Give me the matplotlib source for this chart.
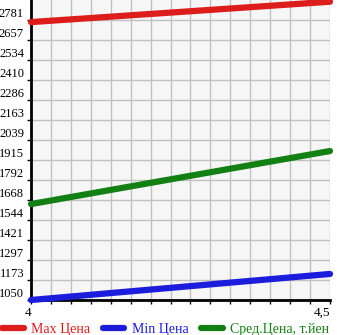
import numpy as np
import matplotlib
matplotlib.use("Agg")
import matplotlib.pyplot as plt
from matplotlib.lines import Line2D

x_vals = [4.0, 4.5]
max_price = [2768, 2894]
min_price = [1050, 1211]
avg_price = [1643, 1971]
ytick_labels = ["1050", "1173", "1297", "1421", "1544", "1668", "1792", "1915",
                "2039", "2163", "2286", "2410", "2534", "2657", "2781"]
xtick_labels = ["4", "4,5"]
legend_labels = ["Max Цена", "Min Цена", "Сред.Цена, т.йен"]
colors = ["#dd1c1c", "#1c1cdd", "#138013"]

plt.rcParams['font.family'] = ['Liberation Serif', 'DejaVu Serif']

fig = plt.figure(figsize=(3.45, 3.35), dpi=100)
ax = fig.add_axes([31/345, 1-300/335, 299/345, 300/335])
ax.set_facecolor("#f6f6f6")

ymin, ymax = 1050, 2781
step = (ymax - ymin) / 14
yticks = [ymin + i * step for i in range(15)]
ax.set_ylim(ymin, ymax + step)
ax.set_xlim(4.0, 4.5)

xt = np.linspace(4.0, 4.5, 16)
ax.set_xticks(xt)
ax.set_xticklabels([xtick_labels[0]] + [""] * 14 + [xtick_labels[1]])
ax.set_yticks(yticks)
ax.set_yticklabels(ytick_labels)
ax.grid(True, color="#c0c0c0", linewidth=1.0)
ax.set_axisbelow(True)

for s in ["top", "right"]:
    ax.spines[s].set_visible(False)
for s in ["left", "bottom"]:
    ax.spines[s].set_linewidth(2)
    ax.spines[s].set_color("black")

ax.tick_params(axis="y", length=3, width=1, pad=2, labelsize=9)
ax.tick_params(axis="x", length=3, width=1, pad=2, labelsize=9.5)
for lab in ax.get_xticklabels():
    lab.set_horizontalalignment("right")
for lab in ax.get_yticklabels():
    lab.set_verticalalignment("bottom")

for ys, c in zip([max_price, min_price, avg_price], colors):
    ax.plot(x_vals, ys, color=c, linewidth=4.5, solid_capstyle="round", clip_on=False, zorder=3)

handles = [Line2D([], [], color=c, linewidth=4.5, solid_capstyle="round") for c in colors]
leg = fig.legend(handles, legend_labels, loc="lower left", bbox_to_anchor=(0.0, -0.01),
                 ncol=3, frameon=False, fontsize=10, handlelength=1.55, handletextpad=0.55,
                 columnspacing=0.9, borderaxespad=0, borderpad=0.15)
for t, c in zip(leg.get_texts(), colors):
    t.set_color(c)

fig.savefig("out.png", dpi=100)
